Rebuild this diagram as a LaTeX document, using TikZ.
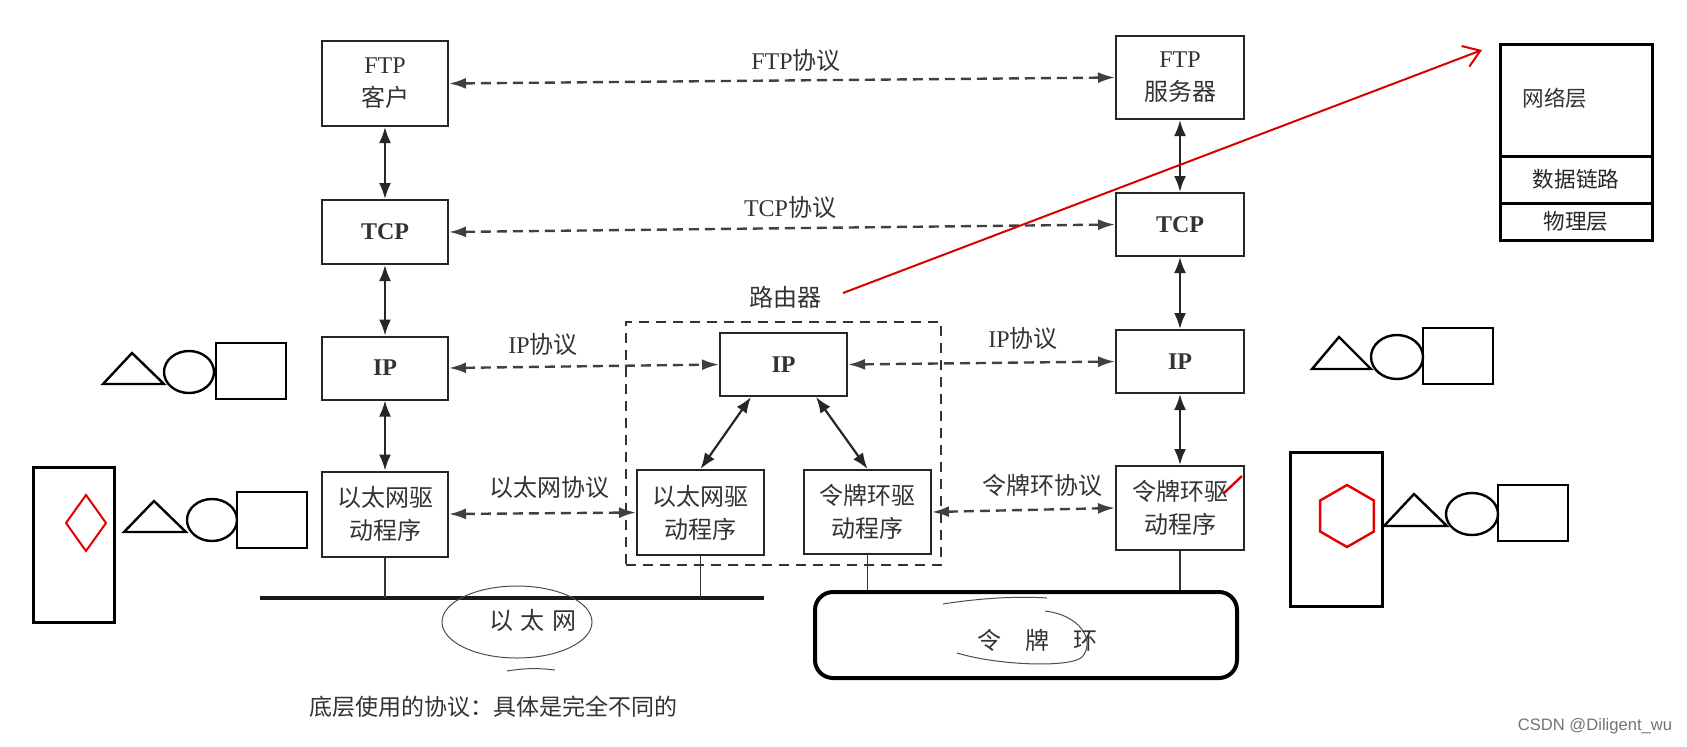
\documentclass[tikz,border=0pt]{standalone}
\usepackage{fontspec}
\setmainfont{Liberation Serif}
\newfontfamily\cjk{Noto Sans CJK SC}
\newfontfamily\csdnfont{Liberation Sans}
\newcommand\zh[1]{{\cjk #1}}
\usetikzlibrary{arrows.meta}
\usetikzlibrary{positioning}
\usetikzlibrary{shapes.geometric}

\begin{document}
\begin{tikzpicture}[x=0.5pt, y=-0.5pt,
    layer/.style={draw=black!85, line width=1pt, fill=white, align=center, inner sep=0pt,
      text=black!80, font=\fontsize{12}{16.5}\selectfont},
    proto/.style={line width=1.2pt, draw=black!75, dash pattern=on 5pt off 3pt,
      {Latex[length=8.5pt,width=5.5pt]}-{Latex[length=8.5pt,width=5.5pt]}},
    updown/.style={line width=1.1pt, draw=black!85, {Latex[length=8pt,width=6pt]}-{Latex[length=8pt,width=6pt]}},
    lbl/.style={inner sep=0pt, text=black!80, font=\fontsize{12}{14}\selectfont},
    drop/.style={line width=0.8pt, draw=black!80},
    stack/.style={draw=black, line width=1.5pt, inner sep=0pt, minimum width=76pt,
      text=black!85, font=\fontsize{10.8}{13}\selectfont},
    shapeline/.style={line width=1.2pt},
    scribble/.style={line width=0.5pt, draw=black!70}
  ]
  \useasboundingbox (0,0) rectangle (1687,746);

  \node[layer, minimum width=63pt, minimum height=42.5pt] (ftpc) at (385,83.5) {FTP\\\zh{客户}};
  \node[layer, minimum width=63pt, minimum height=32pt] (tcpl) at (385,232) {\textbf{TCP}};
  \node[layer, minimum width=63pt, minimum height=31.5pt] (ipl) at (385,368) {\textbf{IP}};
  \node[layer, minimum width=63pt, minimum height=42.5pt] (ethl) at (385,514) {\zh{以太网驱}\\\zh{动程序}};

  \node[layer, minimum width=64pt, minimum height=41.5pt] (ftps) at (1180,77.5) {FTP\\\zh{服务器}};
  \node[layer, minimum width=64pt, minimum height=31.5pt] (tcpr) at (1180,224.5) {\textbf{TCP}};
  \node[layer, minimum width=64pt, minimum height=31.5pt] (ipr) at (1180,361.5) {\textbf{IP}};
  \node[layer, minimum width=64pt, minimum height=42pt] (tokr) at (1180,508) {\zh{令牌环驱}\\\zh{动程序}};

  \node[draw=black!80, line width=1pt, dash pattern=on 5pt off 3.5pt, minimum width=157.5pt,
    minimum height=121.5pt, inner sep=0pt] (router) at (783.5,443.5) {};
  \node[lbl] (routername) at (785,297) {\zh{路由器}};
  \node[layer, minimum width=63.5pt, minimum height=31.5pt] (ipm) at (783.5,364.5) {\textbf{IP}};
  \node[layer, minimum width=63.5pt, minimum height=42.5pt] (ethm) at (700.5,512.5) {\zh{以太网驱}\\\zh{动程序}};
  \node[layer, minimum width=63.5pt, minimum height=42pt] (tokm) at (867.5,512) {\zh{令牌环驱}\\\zh{动程序}};

  \draw[updown] (ftpc) -- (tcpl);
  \draw[updown] (tcpl) -- (ipl);
  \draw[updown] (ipl) -- (ethl);
  \draw[updown] (ftps) -- (tcpr);
  \draw[updown] (tcpr) -- (ipr);
  \draw[updown] (ipr) -- (tokr);
  \draw[updown] (ipm.-135) -- (ethm.north);
  \draw[updown] (ipm.-45) -- (tokm.north);

  \draw[proto] (ftpc.east) -- (ftps.west);
  \draw[proto] (tcpl.east) -- (tcpr.west);
  \draw[proto] (ipl.east) -- (ipm.west);
  \draw[proto] (ipm.east) -- (ipr.west);
  \draw[proto] (ethl.east) -- (ethm.west);
  \draw[proto] (tokm.east) -- (tokr.west);

  \node[lbl] (ftpproto) at (796,60) {FTP\zh{协议}};
  \node[lbl] (tcpproto) at (790,207) {TCP\zh{协议}};
  \node[lbl] (ipprotol) at (543,344) {IP\zh{协议}};
  \node[lbl] (ipprotor) at (1023,338) {IP\zh{协议}};
  \node[lbl] (ethproto) at (549,487) {\zh{以太网协议}};
  \node[lbl] (tokproto) at (1042,485) {\zh{令牌环协议}};

  \coordinate (ethbusW) at (260,598);
  \coordinate (ethbusE) at (764,598);
  \draw[line width=2.3pt, black!90] (ethbusW) -- (ethbusE);
  \draw[drop] (ethl.south) -- (ethl.south |- ethbusW);
  \draw[drop] (ethm.south) -- (ethm.south |- ethbusW);
  \node[lbl] (ethname) at (533,620) {\zh{以\hspace{4pt}太\hspace{4pt}网}};
  \draw[scribble] (517,622) ellipse [x radius=37.5pt, y radius=18pt];
  \draw[scribble] (507,671) .. controls (525,668) and (540,668) .. (555,670);

  \node[draw=black, line width=2pt, rounded corners=9pt, minimum width=211pt, minimum height=43pt,
    inner sep=0pt] (tokring) at (1026,635) {};
  \draw[drop] (tokm.south) -- (tokm.south |- tokring.north);
  \draw[drop] (tokr.south) -- (tokr.south |- tokring.north);
  \node[lbl] (tokname) at (1037,640) {\zh{令\hspace{12pt}牌\hspace{12pt}环}};
  \draw[scribble] (1045,611) .. controls (1080,615) and (1095,640) .. (1083,656)
    .. controls (1075,668) and (1000,666) .. (957,653);
  \draw[scribble] (943,604) .. controls (980,598) and (1020,596) .. (1047,598);

  \node[lbl, font=\fontsize{11.5}{14}\selectfont] (bottomnote) at (493,707) {\zh{底层使用的协议：具体是完全不同的}};

  \node[stack, minimum height=56pt] (netlayer) at (1576,100) {};
  \node[stack, minimum height=23.5pt] (dlllayer) at (1576,179.5) {\zh{数据链路}};
  \node[stack, minimum height=18.5pt] (phylayer) at (1576,221.5) {\zh{物理层}};
  \node[lbl, font=\fontsize{10.8}{13}\selectfont] (netname) at (1555,98) {\zh{网络层}};

  \coordinate (redtail) at (843,293);
  \coordinate (redtip) at (1482,50);
  \draw[red!85!black, line width=1pt, -{Straight Barb[length=8pt,width=11pt]}] (redtail) -- (redtip);
  \draw[red!85!black, line width=1.2pt] (1224,493) -- (1242,476);

  \draw[shapeline] (103,384) -- (132,353) -- (164,384) -- cycle;
  \draw[shapeline] (189,372) ellipse [x radius=12.5pt, y radius=10.5pt];
  \draw[shapeline] (216,343) rectangle (286,399);
  \draw[shapeline] (124,532) -- (154,501) -- (186,532) -- cycle;
  \draw[shapeline] (212,520) ellipse [x radius=12.5pt, y radius=10.5pt];
  \draw[shapeline] (237,492) rectangle (307,548);
  \draw[line width=1.5pt] (33,467) rectangle (114,622);
  \draw[red!90!black, line width=1pt] (86,495) -- (106,523) -- (86,551) -- (66,523) -- cycle;

  \draw[shapeline] (1312,369) -- (1339,337) -- (1371,369) -- cycle;
  \draw[shapeline] (1397,357) ellipse [x radius=13pt, y radius=11pt];
  \draw[shapeline] (1423,328) rectangle (1493,384);
  \draw[shapeline] (1384,526) -- (1414,494) -- (1447,526) -- cycle;
  \draw[shapeline] (1472,514) ellipse [x radius=13pt, y radius=10.5pt];
  \draw[shapeline] (1498,485) rectangle (1568,541);
  \draw[line width=1.5pt] (1290,452) rectangle (1382,606);
  \node[draw=red!90!black, line width=1.2pt, regular polygon, regular polygon sides=6, rotate=90,
    minimum size=31pt, inner sep=0pt] (hexmark) at (1347,516) {};

  \node[inner sep=0pt, text=black!55, font=\csdnfont\fontsize{8.3}{10}\selectfont] (csdn) at (1595,726) {CSDN @Diligent\_wu};
\end{tikzpicture}
\end{document}
